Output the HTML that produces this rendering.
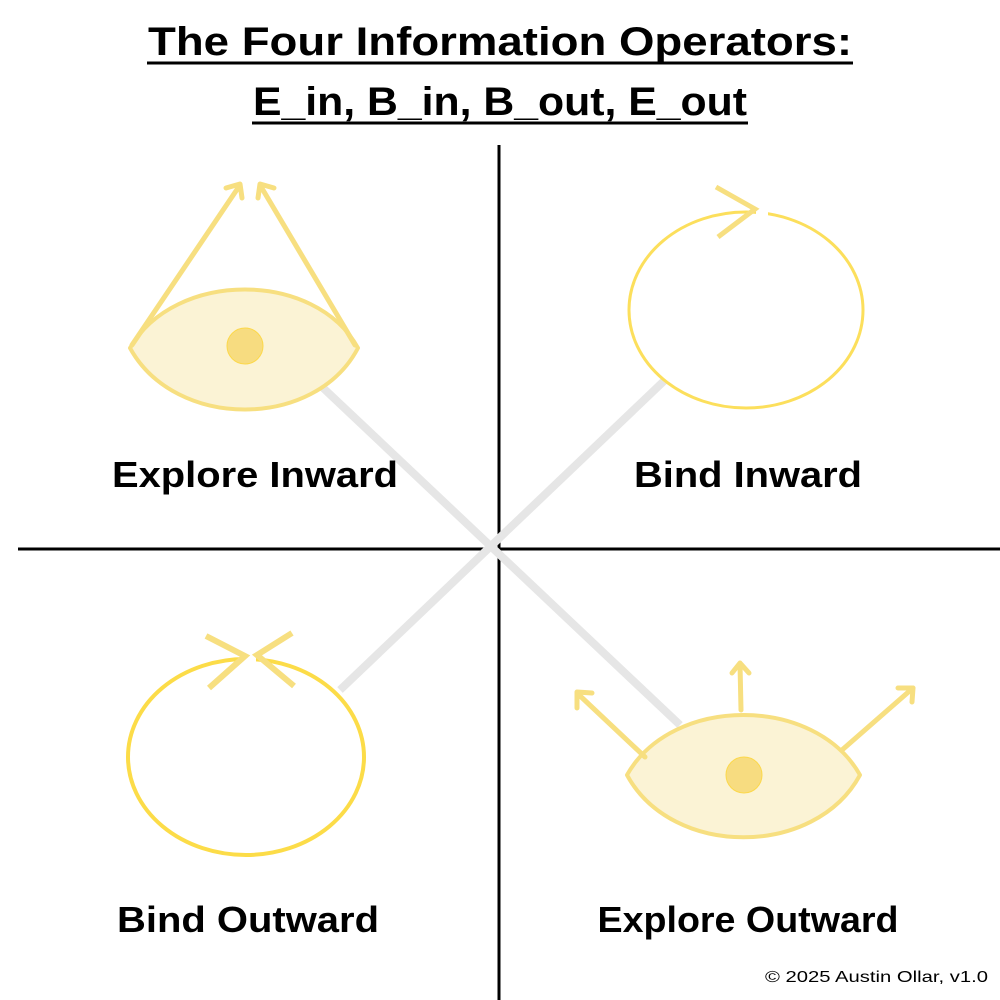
<!DOCTYPE html>
<html><head><style>
html,body{margin:0;padding:0;background:#fff;}
</style></head><body>
<svg width="1000" height="1000" viewBox="0 0 1000 1000" xmlns="http://www.w3.org/2000/svg" style="display:block">
<g font-family="Liberation Sans, sans-serif" font-weight="bold" fill="#000" text-anchor="middle">
<text x="500" y="55" font-size="40" textLength="704" lengthAdjust="spacingAndGlyphs">The Four Information Operators:</text>
<text x="500" y="115" font-size="40" textLength="494" lengthAdjust="spacingAndGlyphs">E_in, B_in, B_out, E_out</text>
</g>
<line x1="147" y1="63" x2="853" y2="63" stroke="#000" stroke-width="3"/>
<line x1="252" y1="123" x2="748" y2="123" stroke="#000" stroke-width="3"/>
<line x1="499" y1="145" x2="499" y2="1000" stroke="#000" stroke-width="3"/>
<line x1="18" y1="549" x2="1000" y2="549" stroke="#000" stroke-width="3"/>
<line x1="320" y1="385" x2="680" y2="725" stroke="#e6e6e6" stroke-width="8"/>
<line x1="340" y1="690" x2="665" y2="380" stroke="#e6e6e6" stroke-width="8"/>
<!-- explore inward -->
<g stroke="#f7df80" stroke-width="4" fill="none" stroke-linecap="round" stroke-linejoin="round">
<path d="M130 348 C175 270 315 270 358 348 C315 430 175 430 130 348 Z" fill="#fbf3d5"/>
<line x1="132" y1="345" x2="240" y2="185" stroke-width="5"/>
<line x1="355" y1="345" x2="260" y2="185" stroke-width="5"/>
<polyline points="226,188 240,184 242,198" stroke-width="5"/>
<polyline points="274,188 260,184 258,198" stroke-width="5"/>
</g>
<circle cx="245" cy="346" r="18" fill="#f7dc80" stroke="#fcd84a" stroke-width="1"/>
<!-- bind inward -->
<ellipse cx="746" cy="310" rx="117" ry="98" fill="none" stroke="#fcdf5c" stroke-width="3"/>
<rect x="756" y="204" width="12" height="14" fill="#fff"/>
<polyline points="716,187 755,209 718,237" stroke="#f7df80" stroke-width="5" fill="none"/>
<!-- bind outward -->
<ellipse cx="246" cy="757" rx="118" ry="98" fill="none" stroke="#fcdc48" stroke-width="4"/>
<rect x="244" y="650" width="12" height="16" fill="#fff"/>
<g stroke="#f7df80" stroke-width="6" fill="none">
<polyline points="206,636 245,656 209,688"/>
<polyline points="292,633 257,655 294,686"/>
</g>
<!-- explore outward -->
<g stroke="#f7df80" stroke-width="4" fill="none" stroke-linecap="round" stroke-linejoin="round">
<path d="M627 775 C672 695 815 695 860 775 C815 858 672 858 627 775 Z" fill="#fbf3d5"/>
<line x1="645" y1="757" x2="577" y2="693" stroke-width="5"/>
<polyline points="577,708 577,692 592,693" stroke-width="5"/>
<line x1="741" y1="710" x2="740" y2="664" stroke-width="5"/>
<polyline points="732,673 740,663 749,673" stroke-width="5"/>
<line x1="842" y1="750" x2="913" y2="688" stroke-width="5"/>
<polyline points="898,688 913,688 912,702" stroke-width="5"/>
</g>
<circle cx="744" cy="775" r="18" fill="#f7dc80" stroke="#fcd84a" stroke-width="1"/>
<g font-family="Liberation Sans, sans-serif" font-weight="bold" fill="#000" text-anchor="middle" font-size="36">
<text x="255" y="487" textLength="286" lengthAdjust="spacingAndGlyphs">Explore Inward</text>
<text x="748" y="487" textLength="228" lengthAdjust="spacingAndGlyphs">Bind Inward</text>
<text x="248" y="932" textLength="262" lengthAdjust="spacingAndGlyphs">Bind Outward</text>
<text x="748" y="932" textLength="301" lengthAdjust="spacingAndGlyphs">Explore Outward</text>
</g>
<text x="988" y="982" font-family="Liberation Sans, sans-serif" font-size="16" text-anchor="end" fill="#000" textLength="223" lengthAdjust="spacingAndGlyphs">© 2025 Austin Ollar, v1.0</text>
</svg>
</body></html>
